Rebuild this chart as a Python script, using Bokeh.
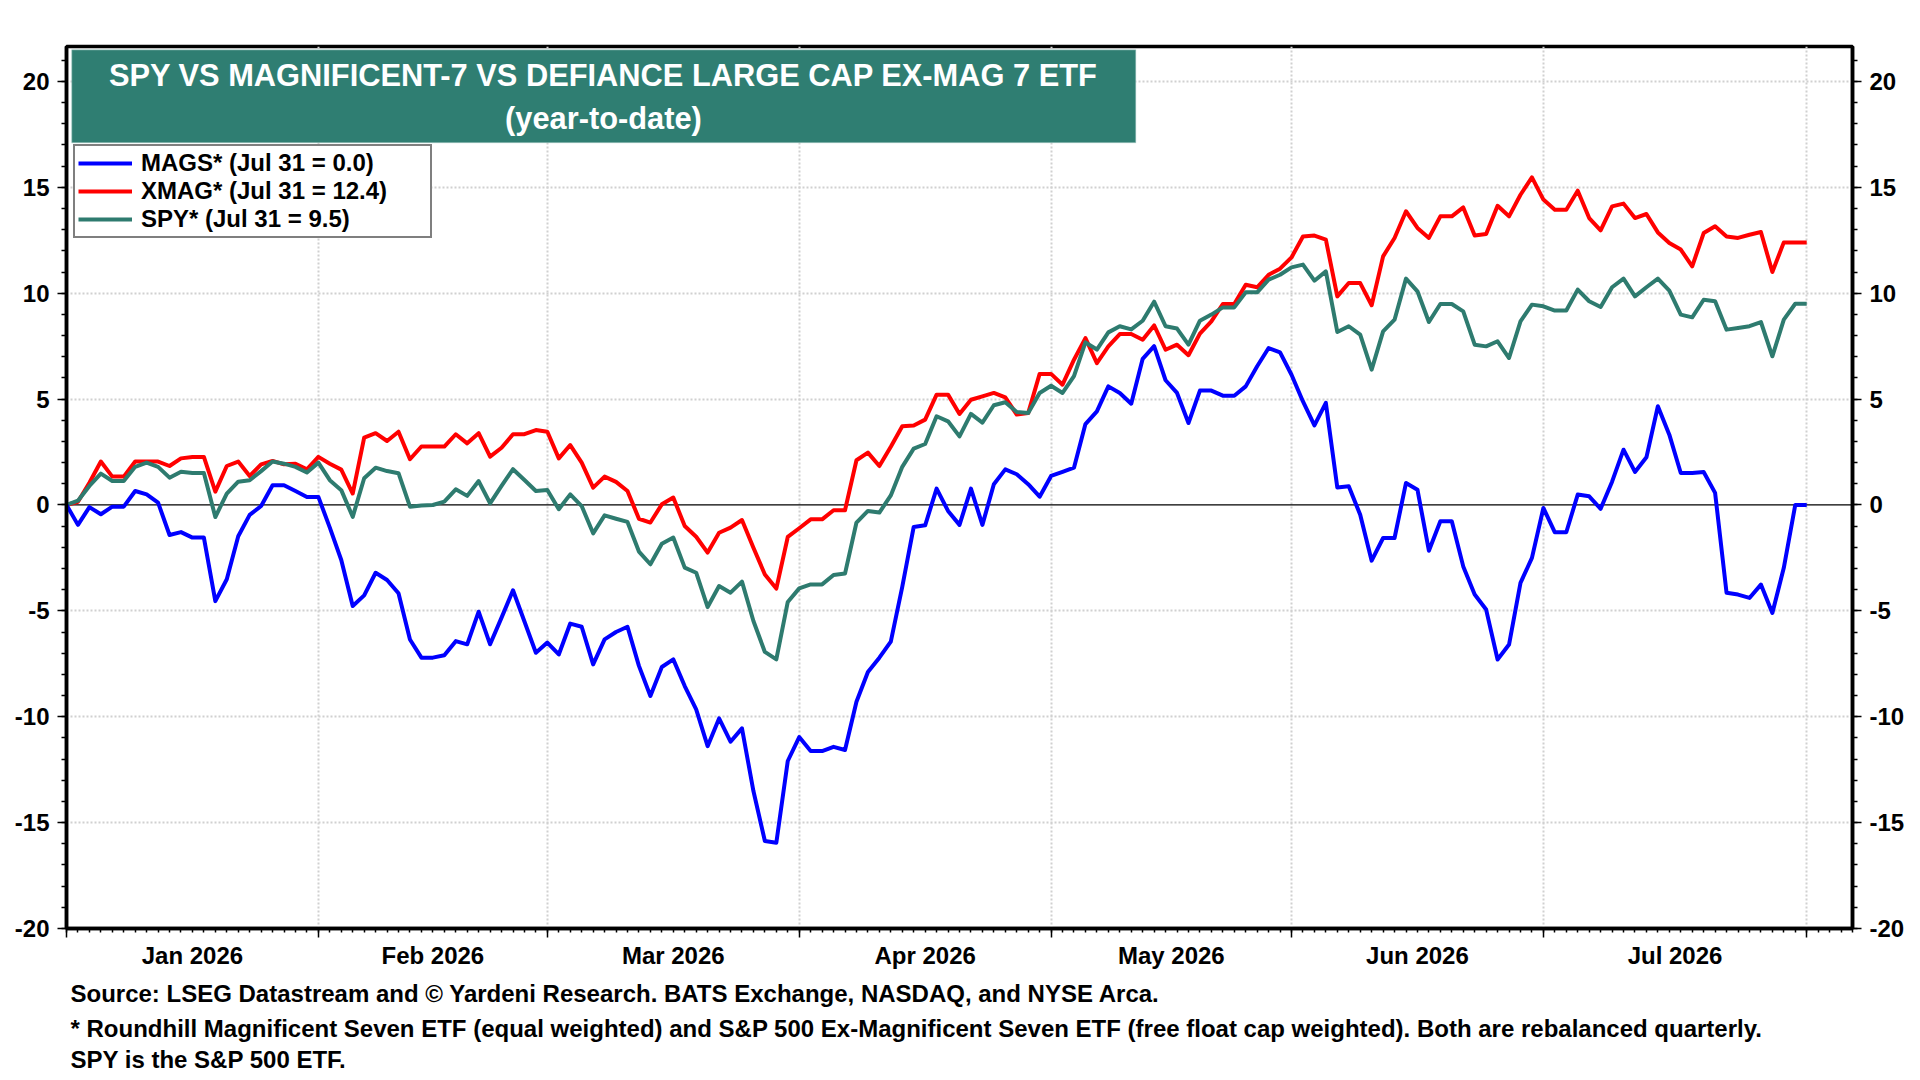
import pandas as pd
from bokeh.plotting import figure
from bokeh.models import (Range1d, LinearAxis, FixedTicker, CustomJSTickFormatter,
                          Span, BoxAnnotation, Label, Legend, LegendItem, Title)
from bokeh.embed import file_html
from bokeh.resources import INLINE

FONT = "Liberation Sans"
BLUE = "#0000ff"
RED = "#ff0000"
TEAL = "#2e7b6f"
BOX = "#2f7e72"

# year-to-date % change, one value per business day (Jan 1 .. Aug 3 slot)
mags = [0.0, -0.94, -0.1, -0.44, -0.08, -0.08, 0.66, 0.5, 0.11, -1.42,
        -1.28, -1.54, -1.54, -4.54, -3.51, -1.48, -0.47, -0.05, 0.93, 0.93,
        0.66, 0.38, 0.38, -1.07, -2.6, -4.77, -4.27, -3.2, -3.54, -4.17,
        -6.35, -7.21, -7.21, -7.1, -6.43, -6.58, -5.04, -6.58, -5.32, -4.03,
        -5.5, -6.98, -6.5, -7.06, -5.6, -5.75, -7.53, -6.35, -6.0, -5.75,
        -7.6, -9.02, -7.65, -7.29, -8.55, -9.65, -11.39, -10.08, -11.18, -10.55,
        -13.51, -15.87, -15.95, -12.09, -10.96, -11.62, -11.62, -11.42, -11.57, -9.29,
        -7.89, -7.21, -6.45, -3.87, -1.04, -0.96, 0.77, -0.28, -0.94, 0.77,
        -0.94, 0.98, 1.68, 1.45, 0.98, 0.39, 1.37, 1.56, 1.76, 3.82,
        4.42, 5.6, 5.29, 4.78, 6.9, 7.5, 5.89, 5.29, 3.87, 5.4,
        5.4, 5.16, 5.16, 5.6, 6.55, 7.41, 7.21, 6.15, 4.89, 3.76,
        4.82, 0.83, 0.88, -0.46, -2.63, -1.56, -1.56, 1.04, 0.72, -2.16,
        -0.77, -0.77, -2.9, -4.23, -4.94, -7.3, -6.59, -3.68, -2.5, -0.14,
        -1.29, -1.29, 0.49, 0.41, -0.18, 1.1, 2.61, 1.56, 2.25, 4.66,
        3.32, 1.51, 1.51, 1.56, 0.57, -4.15, -4.23, -4.39, -3.76, -5.1,
        -2.97, 0.0, 0.0]

xmag = [0.0, 0.15, 1.05, 2.05, 1.34, 1.34, 2.05, 2.05, 2.05, 1.84,
        2.2, 2.27, 2.27, 0.63, 1.84, 2.05, 1.37, 1.92, 2.08, 1.92,
        1.95, 1.68, 2.27, 1.95, 1.67, 0.54, 3.18, 3.39, 3.02, 3.46,
        2.16, 2.76, 2.76, 2.76, 3.34, 2.91, 3.39, 2.28, 2.7, 3.34,
        3.34, 3.54, 3.46, 2.2, 2.83, 2.0, 0.82, 1.34, 1.09, 0.66,
        -0.65, -0.83, 0.03, 0.35, -0.99, -1.5, -2.25, -1.31, -1.07, -0.71,
        -2.02, -3.28, -3.95, -1.51, -1.1, -0.68, -0.68, -0.25, -0.25, 2.11,
        2.47, 1.84, 2.75, 3.72, 3.75, 4.03, 5.21, 5.21, 4.3, 4.97,
        5.13, 5.29, 5.08, 4.27, 4.34, 6.19, 6.19, 5.68, 6.86, 7.88,
        6.7, 7.49, 8.07, 8.07, 7.8, 8.48, 7.33, 7.57, 7.07, 8.09,
        8.67, 9.49, 9.49, 10.4, 10.28, 10.87, 11.16, 11.69, 12.68, 12.72,
        12.53, 9.85, 10.48, 10.48, 9.43, 11.74, 12.61, 13.87, 13.08, 12.61,
        13.63, 13.63, 14.05, 12.73, 12.8, 14.13, 13.63, 14.65, 15.47, 14.42,
        13.94, 13.94, 14.84, 13.55, 12.97, 14.1, 14.23, 13.55, 13.74, 12.87,
        12.37, 12.06, 11.27, 12.84, 13.16, 12.68, 12.61, 12.76, 12.89, 11.0,
        12.4, 12.4, 12.4]

spy = [0.0, 0.2, 0.9, 1.48, 1.13, 1.13, 1.8, 2.0, 1.8, 1.29,
       1.57, 1.51, 1.51, -0.57, 0.54, 1.1, 1.17, 1.6, 2.05, 1.95,
       1.8, 1.53, 2.0, 1.17, 0.7, -0.56, 1.26, 1.76, 1.6, 1.5,
       -0.08, -0.02, 0.0, 0.16, 0.74, 0.43, 1.13, 0.08, 0.9, 1.69,
       1.18, 0.66, 0.71, -0.2, 0.5, -0.05, -1.34, -0.49, -0.65, -0.8,
       -2.2, -2.8, -1.83, -1.54, -2.96, -3.2, -4.82, -3.83, -4.14, -3.62,
       -5.48, -6.94, -7.29, -4.58, -3.94, -3.75, -3.75, -3.31, -3.24, -0.83,
       -0.28, -0.36, 0.45, 1.8, 2.66, 2.88, 4.19, 3.95, 3.24, 4.3,
       3.89, 4.71, 4.85, 4.39, 4.34, 5.29, 5.63, 5.29, 6.08, 7.68,
       7.34, 8.15, 8.44, 8.29, 8.7, 9.6, 8.44, 8.33, 7.57, 8.7,
       8.99, 9.33, 9.33, 10.04, 10.04, 10.64, 10.87, 11.22, 11.35, 10.59,
       11.03, 8.17, 8.44, 8.04, 6.39, 8.2, 8.75, 10.69, 10.09, 8.64,
       9.49, 9.49, 9.14, 7.57, 7.49, 7.73, 6.94, 8.67, 9.46, 9.38,
       9.18, 9.18, 10.17, 9.62, 9.35, 10.28, 10.69, 9.85, 10.28, 10.69,
       10.12, 8.99, 8.86, 9.69, 9.62, 8.28, 8.36, 8.44, 8.64, 7.02,
       8.75, 9.5, 9.5]

month_labels = ["Jan 2026", "Feb 2026", "Mar 2026", "Apr 2026",
                "May 2026", "Jun 2026", "Jul 2026"]

notes = [
    "Source: LSEG Datastream and \u00a9 Yardeni Research. BATS Exchange, NASDAQ, and NYSE Arca.",
    "* Roundhill Magnificent Seven ETF (equal weighted) and S&P 500 Ex-Magnificent Seven ETF "
    "(free float cap weighted). Both are rebalanced quarterly.",
    "SPY is the S&P 500 ETF.",
]

# business-day axis
days = pd.bdate_range("2026-01-01", "2026-08-07")
x = list(range(len(mags)))
month_starts = [i for i, d in enumerate(days) if i == 0 or d.month != days[i - 1].month]
centers = [(month_starts[k] + month_starts[k + 1]) / 2 for k in range(len(month_labels))]

p = figure(width=1916, height=1076, output_backend="svg", toolbar_location=None,
           x_range=Range1d(0, len(days) - 1), y_range=Range1d(-20, 21.65),
           min_border_left=66, min_border_right=64, min_border_top=46,
           min_border_bottom=148)
p.background_fill_color = "white"
p.border_fill_color = "white"
p.outline_line_color = "black"
p.outline_line_width = 3.5
p.outline_line_alpha = 1

# grid
p.xgrid.ticker = FixedTicker(ticks=month_starts[1:])
p.ygrid.ticker = FixedTicker(ticks=[-15, -10, -5, 5, 10, 15, 20])
for g in (p.xgrid, p.ygrid):
    g.grid_line_color = "#d0d0d0"
    g.grid_line_width = 2
    g.grid_line_dash = "2 2"

# y axes, left and right
yticks = FixedTicker(ticks=list(range(-20, 21, 5)), minor_ticks=list(range(-20, 22)))
right = LinearAxis()
p.add_layout(right, "right")
for ax in (p.yaxis[0], right):
    ax.ticker = yticks
    ax.formatter = CustomJSTickFormatter(code="return tick.toFixed(0)")
    ax.axis_line_width = 3.5
    ax.major_tick_in = 0
    ax.major_tick_out = 9
    ax.minor_tick_in = 0
    ax.minor_tick_out = 5
    ax.major_tick_line_width = 1.5
    ax.minor_tick_line_width = 1.5
    ax.major_label_standoff = 8
    ax.major_label_text_font = FONT
    ax.major_label_text_font_size = "24px"
    ax.major_label_text_font_style = "bold"
    ax.major_label_text_color = "black"

# x axis: ticks at month starts, business-day minor ticks
xa = p.xaxis[0]
xa.ticker = FixedTicker(ticks=month_starts, minor_ticks=list(range(len(days))))
xa.formatter = CustomJSTickFormatter(code="return ''")
xa.axis_line_width = 3.5
xa.major_tick_in = 0
xa.major_tick_out = 9
xa.minor_tick_in = 0
xa.minor_tick_out = 4
xa.major_tick_line_width = 1.5
xa.minor_tick_line_width = 1.5
xa.major_label_standoff = 0
xa.major_label_text_font_size = "1px"

# month names centred in each month
xb = LinearAxis(ticker=FixedTicker(ticks=centers, minor_ticks=[]),
                formatter=CustomJSTickFormatter(
                    args=dict(pos=centers, names=month_labels),
                    code="const i = pos.indexOf(tick); return i >= 0 ? names[i] : '';"))
xb.axis_line_color = None
xb.major_tick_line_color = None
xb.minor_tick_line_color = None
xb.major_tick_out = 0
xb.major_tick_in = 0
xb.major_label_standoff = 4
xb.major_label_text_font = FONT
xb.major_label_text_font_size = "24px"
xb.major_label_text_font_style = "bold"
xb.major_label_text_color = "black"
p.add_layout(xb, "below")

for t, gap in zip(notes, [12, 0, 4]):
    p.add_layout(Title(text=t, align="left", offset=4, standoff=gap,
                       text_font=FONT, text_font_size="24px", text_font_style="bold",
                       text_color="black"), "below")

p.add_layout(Span(location=0, dimension="width", line_color="black",
                  line_width=1.3, level="underlay"))

r_red = p.line(x, xmag, color=RED, line_width=4, line_join="round")
r_spy = p.line(x, spy, color=TEAL, line_width=4, line_join="round")
r_blue = p.line(x, mags, color=BLUE, line_width=4, line_join="round")

# title box
p.add_layout(BoxAnnotation(left=0.45, right=93.4, top=21.5, bottom=17.1,
                           fill_color=BOX, fill_alpha=1, line_color="#c4dad6",
                           line_width=1.5))
p.add_layout(Label(x=46.9, y=20.28, text="SPY VS MAGNIFICENT-7 VS DEFIANCE LARGE CAP EX-MAG 7 ETF",
                   text_align="center", text_baseline="middle", text_color="white",
                   text_font=FONT, text_font_size="30.8px", text_font_style="bold"))
p.add_layout(Label(x=46.9, y=18.25, text="(year-to-date)",
                   text_align="center", text_baseline="middle", text_color="white",
                   text_font=FONT, text_font_size="30.8px", text_font_style="bold"))

legend = Legend(items=[
    LegendItem(label=f"MAGS* (Jul 31 = {mags[-1]:.1f})", renderers=[r_blue]),
    LegendItem(label=f"XMAG* (Jul 31 = {xmag[-1]:.1f})", renderers=[r_red]),
    LegendItem(label=f"SPY* (Jul 31 = {spy[-1]:.1f})", renderers=[r_spy]),
], location=(7, 690))
legend.label_text_font = FONT
legend.label_text_font_size = "24px"
legend.label_text_font_style = "bold"
legend.label_text_color = "black"
legend.glyph_width = 54
legend.glyph_height = 20
legend.label_height = 20
legend.label_width = 286
legend.label_standoff = 9
legend.spacing = -1
legend.padding = 3
legend.margin = 0
legend.border_line_color = "black"
legend.border_line_width = 2.5
legend.background_fill_color = "white"
legend.background_fill_alpha = 1
p.add_layout(legend)

open("out.html", "w").write(file_html(p, INLINE))
